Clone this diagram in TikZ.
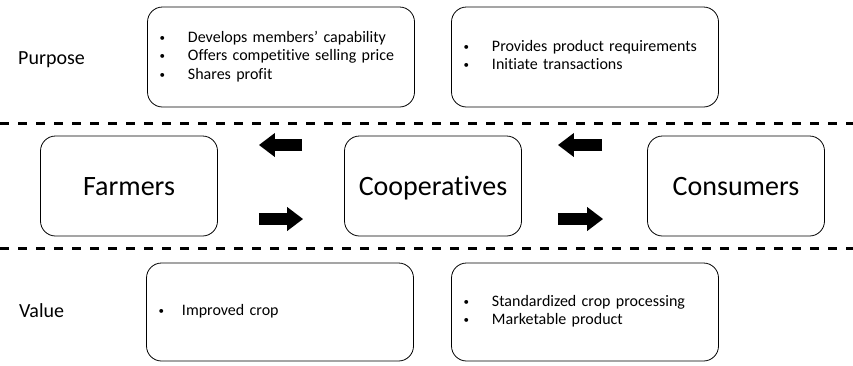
\documentclass[tikz,border=0pt]{standalone}
\usepackage{fontspec}
\setmainfont{Carlito}[Ligatures={TeX,NoCommon}]
\usetikzlibrary{arrows.meta}

\newcommand{\bul}{\raisebox{0.15ex}{\fontsize{11}{11}\selectfont\textbullet}}

\begin{document}
\begin{tikzpicture}[x=1pt, y=-1pt,
		actor/.style={draw, line width=0.8pt, rounded corners=15pt, minimum width=177pt, minimum height=100pt, text height=18pt, text depth=0pt, font=\fontsize{28}{32}\selectfont},
		list/.style={draw, line width=0.8pt, rounded corners=15pt, text width=243pt, inner xsep=12pt, minimum height=100pt, align=left, font=\fontsize{16}{18.5}\selectfont},
		lbl/.style={anchor=base west, inner sep=0pt, font=\fontsize{20}{24}\selectfont},
		sep/.style={line width=3pt, dash pattern=on 9pt off 9pt},
		flow/.style={line width=12pt, -{Triangle[length=16pt, width=23pt]}}]
		\useasboundingbox (0,0) rectangle (853,365);

		% row labels
		\node[lbl] (purpose) at (18,64) {Purpose};
		\node[lbl] (value) at (19,317) {Value};

		% dashed separators
		\coordinate (s1a) at (0,123);
		\coordinate (s1b) at (853,123);
		\coordinate (s2a) at (0,248);
		\coordinate (s2b) at (853,248);
		\draw[sep] (s1a) -- (s1b);
		\draw[sep] (s2a) -- (s2b);

		% the three parties
		\node[actor] (farmers) at (129,186) {Farmers};
		\node[actor] (coop) at (433,186) {Cooperatives};
		\node[actor] (consumers) at (736,186) {Consumers};

		% purpose
		\node[list] (p1) at (281,57) {\begin{tabular}{@{}l@{\hspace{23pt}}l@{}}
			\bul & Develops members' capability\\
			\bul & Offers competitive selling price\\
			\bul & Shares profit
		\end{tabular}};
		\node[list] (p2) at (585,57) {\begin{tabular}{@{}l@{\hspace{23pt}}l@{}}
			\bul & Provides product requirements\\
			\bul & Initiate transactions
		\end{tabular}};

		% value
		\node[list, minimum height=98pt] (v1) at (280,312) {\begin{tabular}{@{}l@{\hspace{18pt}}l@{}}
			\bul & Improved crop
		\end{tabular}};
		\node[list, minimum height=98pt] (v2) at (585,312) {\begin{tabular}{@{}l@{\hspace{23pt}}l@{}}
			\bul & Standardized crop processing\\
			\bul & Marketable product
		\end{tabular}};

		% flows between the parties
		\path
		([yshift=41pt]coop.west) edge[flow, shorten <=42pt, shorten >=41pt] ([yshift=41pt]farmers.east)
		([yshift=-33pt]farmers.east) edge[flow, shorten <=41pt, shorten >=41pt] ([yshift=-33pt]coop.west)
		([yshift=41pt]consumers.west) edge[flow, shorten <=45pt, shorten >=36pt] ([yshift=41pt]coop.east)
		([yshift=-33pt]coop.east) edge[flow, shorten <=36pt, shorten >=44pt] ([yshift=-33pt]consumers.west);
\end{tikzpicture}
\end{document}
